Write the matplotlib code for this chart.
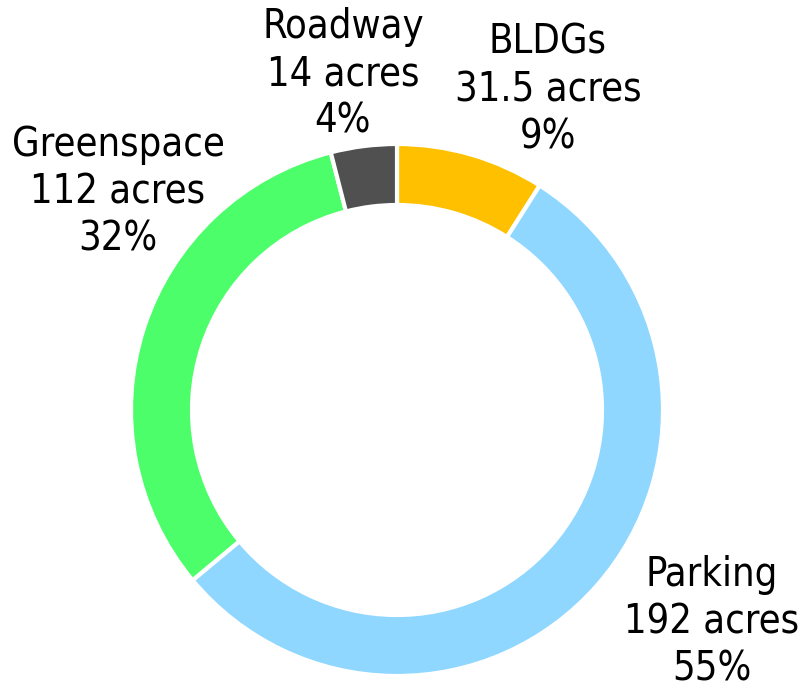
import matplotlib.pyplot as plt

# land use breakdown
labels = ['BLDGs', 'Parking', 'Greenspace', 'Roadway']
acres = [31.5, 192, 112, 14]
acre_text = ['31.5', '192', '112', '14']
pcts = [9, 55, 32, 4]
colors = ['#FFC000', '#8FD7FF', '#4CFF6A', '#505050']

plt.rcParams['font.family'] = ['Liberation Sans Narrow', 'DejaVu Sans']
plt.rcParams['font.stretch'] = 'condensed'

fig = plt.figure(figsize=(8.08, 6.92), dpi=100)
ax = fig.add_axes([0, 0, 1, 1])
ax.set_xlim(0, 808)
ax.set_ylim(0, 692)
ax.set_aspect('equal')
ax.axis('off')

ax.pie(acres, colors=colors, startangle=90, counterclock=False,
       center=(397, 282), radius=266,
       wedgeprops=dict(width=61, edgecolor='white', linewidth=3))
ax.set_xlim(0, 808)
ax.set_ylim(0, 692)

# label block positions (pixels)
label_pos = [(548, 602), (712, 70), (118, 500), (343, 618)]
for i in range(len(labels)):
    txt = labels[i] + '\n' + acre_text[i] + ' acres\n' + str(pcts[i]) + '%'
    ax.text(label_pos[i][0], label_pos[i][1], txt, ha='center', va='center',
            fontsize=28.5, linespacing=1.23, color='black', fontstretch='condensed')

plt.savefig('out.png', dpi=100)
